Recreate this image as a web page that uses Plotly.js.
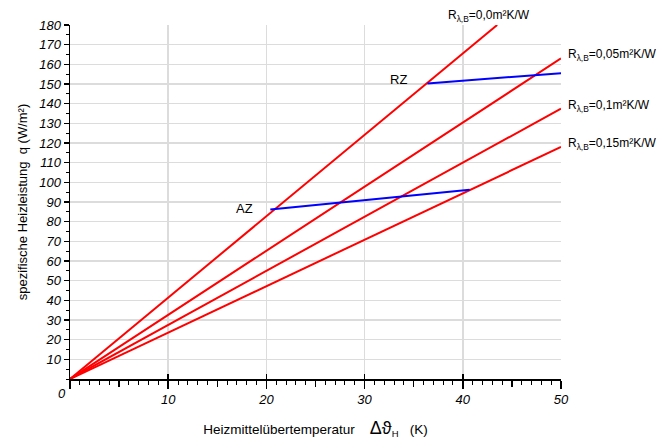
<!DOCTYPE html>
<html>
<head>
<meta charset="utf-8">
<script src="https://cdn.plot.ly/plotly-3.0.1.min.js"></script>
<style>html,body{margin:0;padding:0;background:#fff;}#chart{width:658px;height:440px;}</style>
</head>
<body>
<div id="chart"></div>
<script>
// Data
const seriesNames = ["0,0", "0,05", "0,1", "0,15"];
const startTemp = [0, 0, 0, 0];
const startQ = [0, 0, 0, 0];
const endTemp = [43.5, 50, 50, 50];
const endQ = [180, 163, 137.5, 118];
const azTemp = [20.4, 40.7];
const azQ = [86.2, 96.2];
const rzTemp = [36.4, 50];
const rzQ = [150.3, 155.5];
const xTickVals = [0, 10, 20, 30, 40, 50];
const xTickText = ["", "10", "20", "30", "40", "50"];
const yTickVals = [10,20,30,40,50,60,70,80,90,100,110,120,130,140,150,160,170,180];

const FONT = "Liberation Sans, Arial, sans-serif";
const traces = [];
seriesNames.forEach((n, i) => {
  traces.push({x: [startTemp[i], endTemp[i]], y: [startQ[i], endQ[i]], mode: "lines",
    line: {color: "#ff0000", width: 2}, hoverinfo: "skip", showlegend: false});
});
traces.push({x: azTemp, y: azQ, mode: "lines", line: {color: "#0000ff", width: 2}, showlegend: false});
traces.push({x: rzTemp, y: rzQ, mode: "lines", line: {color: "#0000ff", width: 2}, showlegend: false});
traces.push({x: [null], y: [null], xaxis: "x2", yaxis: "y", showlegend: false, hoverinfo: "skip"});
traces.push({x: [null], y: [null], xaxis: "x3", yaxis: "y", showlegend: false, hoverinfo: "skip"});

const annotations = [];
seriesNames.forEach((n, i) => {
  const txt = "R<sub>λ,B</sub>=" + n + "m²K/W";
  if (i === 0) {
    annotations.push({x: 38.3, y: 1, xref: "x", yref: "paper", xanchor: "left", yanchor: "bottom",
      yshift: -1, text: txt, showarrow: false, font: {family: FONT, size: 12, color: "#000"}});
  } else {
    annotations.push({x: endTemp[i], y: endQ[i], xref: "x", yref: "y", xanchor: "left", yanchor: "middle",
      xshift: 5, yshift: 3, text: txt, showarrow: false, font: {family: FONT, size: 12, color: "#000"}});
  }
});
annotations.push({x: azTemp[0], y: azQ[0], xref: "x", yref: "y", xanchor: "right", yanchor: "middle",
  xshift: -15, yshift: 1, text: "AZ", showarrow: false, font: {family: FONT, size: 13, color: "#000"}});
annotations.push({x: rzTemp[0], y: rzQ[0], xref: "x", yref: "y", xanchor: "right", yanchor: "middle",
  xshift: -18, yshift: 4, text: "RZ", showarrow: false, font: {family: FONT, size: 13, color: "#000"}});
annotations.push({x: 0, y: 0, xref: "x", yref: "y", xanchor: "center", yanchor: "top",
  xshift: -8, yshift: -5, text: "<i>0</i>", showarrow: false, font: {family: FONT, size: 13, color: "#000"}});

const layout = {
  width: 658, height: 440,
  margin: {l: 70, r: 97, t: 25, b: 61},
  paper_bgcolor: "#fff", plot_bgcolor: "#fff",
  font: {family: FONT, size: 13, color: "#000"},
  showlegend: false,
  xaxis: {
    range: [0, 50], tickvals: xTickVals, ticktext: xTickText.map(t => t ? "<i>" + t + "</i>" : ""),
    showgrid: true, gridcolor: "#dcdcdc", gridwidth: 1.5, zeroline: false,
    showline: true, linecolor: "#000", linewidth: 1.5,
    ticks: "outside", ticklen: 8, tickwidth: 1.5, tickcolor: "#000",
    tickfont: {family: FONT, size: 13},
    minor: {dtick: 1, ticks: "outside", ticklen: 4, tickwidth: 1, tickcolor: "#000", showgrid: false},
    title: {text: "Heizmittelübertemperatur    <span style='font-size:18px'>Δϑ</span><sub>H</sub>   (K)",
      font: {family: FONT, size: 13.5}, standoff: 18}
  },
  xaxis2: {
    overlaying: "x", anchor: "y", range: [0, 50], tickvals: [5, 15, 25, 35, 45],
    showticklabels: false, showgrid: false, zeroline: false, showline: false,
    ticks: "outside", ticklen: 7, tickwidth: 1.5, tickcolor: "#000"
  },
  xaxis3: {
    overlaying: "x", anchor: "y", range: [0, 50], tickvals: xTickVals,
    showticklabels: false, showgrid: false, zeroline: false, showline: false,
    ticks: "inside", ticklen: 5, tickwidth: 1.5, tickcolor: "#000"
  },
  yaxis: {
    range: [0, 180], tickvals: yTickVals, ticktext: yTickVals.map(v => "<i>" + v + "</i>"),
    showgrid: true, gridcolor: "#dcdcdc", gridwidth: 1.5, zeroline: false,
    showline: true, linecolor: "#000", linewidth: 1.5,
    ticks: "outside", ticklen: 5, tickwidth: 1.5, tickcolor: "#000",
    tickfont: {family: FONT, size: 13},
    minor: {dtick: 5, ticks: "outside", ticklen: 3, tickwidth: 1, tickcolor: "#000", showgrid: false},
    title: {text: "spezifische Heizleistung  q (W/m²)", font: {family: FONT, size: 13}, standoff: 8}
  },
  annotations: annotations
};
Plotly.newPlot("chart", traces, layout, {displayModeBar: false, staticPlot: true});
</script>
</body>
</html>
